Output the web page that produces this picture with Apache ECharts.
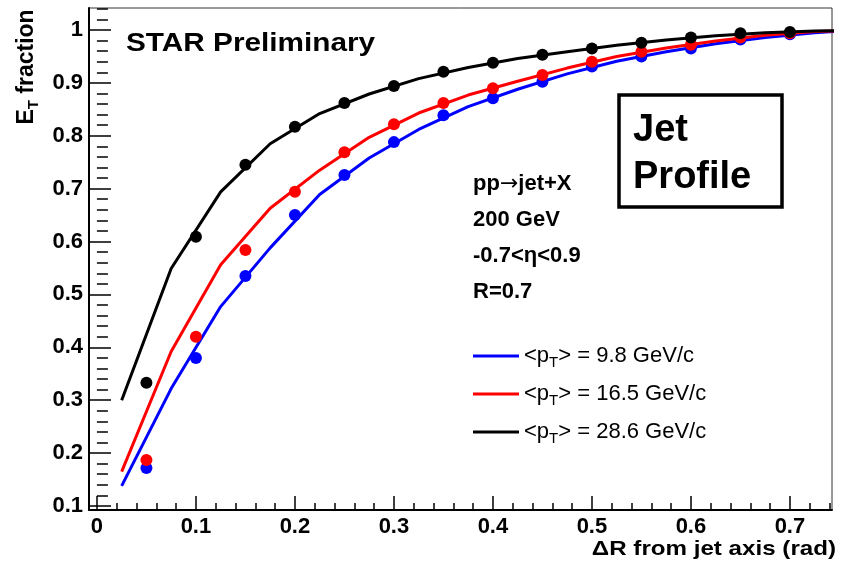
<!DOCTYPE html>
<html>
<head>
<meta charset="utf-8">
<script src="https://cdn.jsdelivr.net/npm/echarts@6.0.0/dist/echarts.min.js"></script>
<style>
  html, body { margin: 0; padding: 0; background: #fff; }
  #chart { width: 842px; height: 563px; }
</style>
</head>
<body>
<div id="chart"></div>
<script>
// Jet profile: fraction of transverse energy inside a cone of radius ΔR
const pointX = [0.05, 0.10, 0.15, 0.20, 0.25, 0.30, 0.35, 0.40, 0.45, 0.50, 0.55, 0.60, 0.65, 0.70];
const bluePoints  = [0.172, 0.380, 0.535, 0.650, 0.726, 0.788, 0.839, 0.871, 0.902, 0.931, 0.950, 0.965, 0.982, 0.992];
const redPoints   = [0.187, 0.420, 0.584, 0.694, 0.769, 0.822, 0.862, 0.890, 0.915, 0.940, 0.959, 0.972, 0.986, 0.994];
const blackPoints = [0.333, 0.609, 0.745, 0.817, 0.862, 0.894, 0.921, 0.938, 0.953, 0.965, 0.976, 0.986, 0.994, 0.996];

// model curves
const curveX = [0.025, 0.075, 0.125, 0.175, 0.225, 0.275, 0.325, 0.375, 0.425, 0.475, 0.525, 0.575, 0.625, 0.675, 0.725, 0.775];
const blueCurve  = [0.138, 0.322, 0.477, 0.588, 0.689, 0.758, 0.812, 0.855, 0.888, 0.917, 0.941, 0.959, 0.974, 0.986, 0.995, 1.000];
const redCurve   = [0.165, 0.392, 0.556, 0.663, 0.735, 0.797, 0.843, 0.877, 0.903, 0.928, 0.950, 0.966, 0.979, 0.990, 0.997, 1.000];
const blackCurve = [0.300, 0.549, 0.694, 0.785, 0.842, 0.879, 0.908, 0.929, 0.946, 0.959, 0.971, 0.981, 0.989, 0.995, 0.998, 1.000];

const meanPt = ['9.8', '16.5', '28.6'];
const seriesNames = ['pt98', 'pt165', 'pt286'];

// axis ticks and labels
const xMajor = [0, 0.1, 0.2, 0.3, 0.4, 0.5, 0.6, 0.7];
const xLabels = ['0', '0.1', '0.2', '0.3', '0.4', '0.5', '0.6', '0.7'];
const yMajor = [0.1, 0.2, 0.3, 0.4, 0.5, 0.6, 0.7, 0.8, 0.9, 1.0];
const yLabels = ['0.1', '0.2', '0.3', '0.4', '0.5', '0.6', '0.7', '0.8', '0.9', '1'];

const X_MIN = -0.008, X_MAX = 0.7425;
const Y_MIN = 0.0924, Y_MAX = 1.0416;

function minorTicks(lo, hi, step, majors) {
  const out = [];
  for (let k = Math.ceil(lo / step - 1e-9); k * step <= hi + 1e-9; k++) {
    const v = +(k * step).toFixed(4);
    if (!majors.some(m => Math.abs(m - v) < 1e-6)) out.push(v);
  }
  return out;
}
const xMinor = minorTicks(0, X_MAX, 0.02, xMajor);
const yMinor = minorTicks(Y_MIN, Y_MAX, 0.02, yMajor);

const FONT = '"Liberation Sans", Arial, Helvetica, sans-serif';
const colors = ['#0000ff', '#ff0000', '#000000'];

function pairs(xs, ys) { return xs.map((x, i) => [x, ys[i]]); }

function labelFor(list, labels) {
  return v => {
    const i = list.findIndex(m => Math.abs(m - v) < 1e-6);
    return i >= 0 ? labels[i] : '';
  };
}

const curves = [blueCurve, redCurve, blackCurve];
const points = [bluePoints, redPoints, blackPoints];
const series = [];
for (let s = 0; s < 3; s++) {
  series.push({
    name: seriesNames[s], type: 'line', data: pairs(curveX, curves[s]),
    showSymbol: false, symbol: 'none', clip: true,
    lineStyle: { color: colors[s], width: 3 }, itemStyle: { color: colors[s] },
    z: 2 + s * 2
  });
  series.push({
    name: seriesNames[s] + '_pts', type: 'scatter', data: pairs(pointX, points[s]),
    symbol: 'circle', symbolSize: 12, itemStyle: { color: colors[s], opacity: 1 },
    z: 3 + s * 2
  });
}

const baseAxis = {
  type: 'value', splitLine: { show: false }
};

const option = {
  animation: false,
  backgroundColor: '#fff',
  grid: { left: 89, top: 8, right: 10, bottom: 53, show: true, borderColor: '#333', borderWidth: 1, backgroundColor: 'transparent' },
  xAxis: [
    Object.assign({}, baseAxis, {
      min: X_MIN, max: X_MAX, position: 'bottom',
      axisLine: { show: true, onZero: false, lineStyle: { color: '#000', width: 2 } },
      axisTick: { show: true, inside: true, length: 14, customValues: xMajor, lineStyle: { color: '#000', width: 1.5 } },
      axisLabel: { show: true, customValues: xMajor, formatter: labelFor(xMajor, xLabels), margin: 6,
        color: '#000', fontFamily: FONT, fontWeight: 'bold', fontSize: 22 }
    }),
    Object.assign({}, baseAxis, {
      min: X_MIN, max: X_MAX, position: 'bottom',
      axisLine: { show: false },
      axisTick: { show: true, inside: true, length: 7, customValues: xMinor, lineStyle: { color: '#000', width: 1.5 } },
      axisLabel: { show: false }
    })
  ],
  yAxis: [
    Object.assign({}, baseAxis, {
      min: Y_MIN, max: Y_MAX, position: 'left',
      axisLine: { show: true, onZero: false, lineStyle: { color: '#000', width: 2 } },
      axisTick: { show: true, inside: true, length: 22, customValues: yMajor, lineStyle: { color: '#000', width: 1.5 } },
      axisLabel: { show: true, customValues: yMajor, formatter: labelFor(yMajor, yLabels), margin: 6,
        color: '#000', fontFamily: FONT, fontWeight: 'bold', fontSize: 22 }
    }),
    Object.assign({}, baseAxis, {
      min: Y_MIN, max: Y_MAX, position: 'left',
      axisLine: { show: false },
      axisTick: { show: true, inside: true, length: 11, customValues: yMinor, lineStyle: { color: '#000', width: 1.5 } },
      axisLabel: { show: false }
    })
  ],
  legend: {
    data: seriesNames,
    orient: 'vertical', left: 468, top: 337, itemGap: 10,
    icon: 'rect', itemWidth: 46, itemHeight: 3,
    selectedMode: false,
    formatter: name => '<p{sub|T}> = ' + meanPt[seriesNames.indexOf(name)] + ' GeV/c',
    textStyle: {
      color: '#000', fontFamily: FONT, fontSize: 22, lineHeight: 26,
      rich: { sub: { fontFamily: FONT, fontSize: 15, lineHeight: 15, padding: [13, 0, 0, 0] } }
    }
  },
  series: series,
  graphic: [
    { type: 'text', x: 126, y: 44, scaleX: 1.19, z: 20,
      style: { text: 'STAR Preliminary', font: 'bold 25px ' + FONT, fill: '#000', align: 'left', verticalAlign: 'middle' } },
    { type: 'text', x: 27, y: 67, rotation: Math.PI / 2, z: 20,
      style: { text: 'E{sub|T} fraction', font: 'bold 23px ' + FONT, fill: '#000', align: 'center', verticalAlign: 'middle',
        rich: { sub: { font: 'bold 15px ' + FONT, padding: [14, 0, 0, 0] } } } },
    { type: 'text', x: 836, y: 549, scaleX: 1.15, z: 20,
      style: { text: 'ΔR from jet axis (rad)', font: 'bold 21px ' + FONT, fill: '#000', align: 'right', verticalAlign: 'middle' } },
    { type: 'text', x: 473, y: 184, z: 20,
      style: { text: 'pp{arr|→}jet+X', font: 'bold 22px ' + FONT, fill: '#000', align: 'left', verticalAlign: 'middle',
        rich: { arr: { font: '22px "DejaVu Sans", sans-serif', fill: '#000' } } } },
    { type: 'text', x: 473, y: 220, z: 20,
      style: { text: '200 GeV', font: 'bold 22px ' + FONT, fill: '#000', align: 'left', verticalAlign: 'middle' } },
    { type: 'text', x: 473, y: 256, z: 20,
      style: { text: '-0.7<η<0.9', font: 'bold 22px ' + FONT, fill: '#000', align: 'left', verticalAlign: 'middle' } },
    { type: 'text', x: 473, y: 292, z: 20,
      style: { text: 'R=0.7', font: 'bold 22px ' + FONT, fill: '#000', align: 'left', verticalAlign: 'middle' } },
    { type: 'rect', z: 20, shape: { x: 619, y: 95, width: 163, height: 112 },
      style: { fill: '#fff', stroke: '#000', lineWidth: 3.5 } },
    { type: 'text', x: 633, y: 131, z: 21,
      style: { text: 'Jet', font: 'bold 38px ' + FONT, fill: '#000', align: 'left', verticalAlign: 'middle' } },
    { type: 'text', x: 633, y: 178, z: 21,
      style: { text: 'Profile', font: 'bold 38px ' + FONT, fill: '#000', align: 'left', verticalAlign: 'middle' } }
  ]
};

const chart = echarts.init(document.getElementById('chart'), null, { renderer: 'canvas' });
chart.setOption(option);
</script>
</body>
</html>
